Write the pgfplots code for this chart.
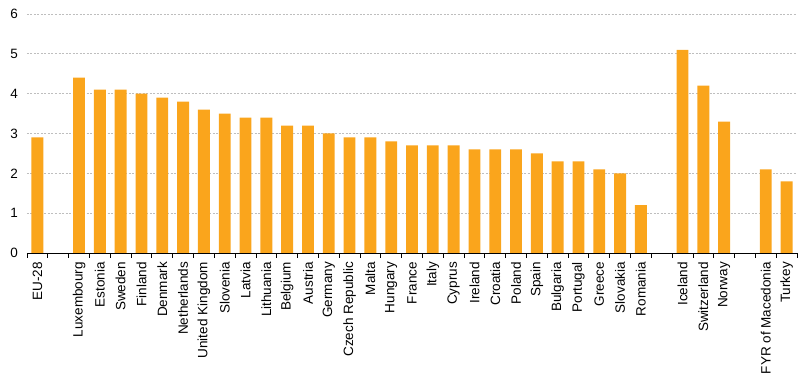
\documentclass[border=0pt]{standalone}
\usepackage{pgfplots}
\pgfplotsset{compat=1.18}
\usepackage{fontspec}
\setmainfont{Liberation Sans}
\definecolor{barorange}{RGB}{250,165,28}
\definecolor{gridgrey}{RGB}{190,190,190}
\begin{document}
\begin{tikzpicture}[x=1pt,y=1pt]
\path[use as bounding box] (-27,-129) rectangle (785,253);
\begin{axis}[
  at={(0,0)}, anchor=south west,
  scale only axis, width=770pt, height=239pt,
  xmin=-0.5, xmax=36.5, ymin=0, ymax=6,
  axis x line*=bottom, axis y line*=left,
  y axis line style={draw=none},
  x axis line style={black, line width=0.8pt},
  ytick={0,1,2,3,4,5,6},
  ymajorgrids, grid style={gridgrey, dash pattern=on 2pt off 1.5pt, line width=0.7pt},
  ytick style={draw=none},
  xtick={0,2,3,4,5,6,7,8,9,10,11,12,13,14,15,16,17,18,19,20,21,22,23,24,25,26,27,28,29,31,32,33,35,36},
  xticklabels={EU-28,Luxembourg,Estonia,Sweden,Finland,Denmark,Netherlands,United Kingdom,Slovenia,Latvia,Lithuania,Belgium,Austria,Germany,Czech Republic,Malta,Hungary,France,Italy,Cyprus,Ireland,Croatia,Poland,Spain,Bulgaria,Portugal,Greece,Slovakia,Romania,Iceland,Switzerland,Norway,FYR of Macedonia,Turkey},
  major x tick style={draw=none},
  minor xtick={-0.5,0.5,...,36.5},
  minor x tick style={black, line width=0.8pt},
  minor tick length=5pt,
  major tick length=0pt,
  tick align=outside,
  xticklabel style={rotate=90, anchor=east, font=\fontsize{13.5}{15}\selectfont, inner sep=0pt},
  yticklabel style={font=\fontsize{13.5}{15}\selectfont, inner sep=0pt},
  xticklabel shift=9pt,
  yticklabel shift=9pt,
  /pgf/number format/assume math mode=true,
  bar width=0.57,
  clip=false,
]
\addplot[ybar, fill=barorange, draw=none] coordinates {
(0,2.9)
(2,4.4) (3,4.1) (4,4.1) (5,4.0) (6,3.9) (7,3.8) (8,3.6) (9,3.5) (10,3.4) (11,3.4)
(12,3.2) (13,3.2) (14,3.0) (15,2.9) (16,2.9) (17,2.8) (18,2.7) (19,2.7) (20,2.7)
(21,2.6) (22,2.6) (23,2.6) (24,2.5) (25,2.3) (26,2.3) (27,2.1) (28,2.0) (29,1.2)
(31,5.1) (32,4.2) (33,3.3)
(35,2.1) (36,1.8)
};
\end{axis}
\end{tikzpicture}
\end{document}
